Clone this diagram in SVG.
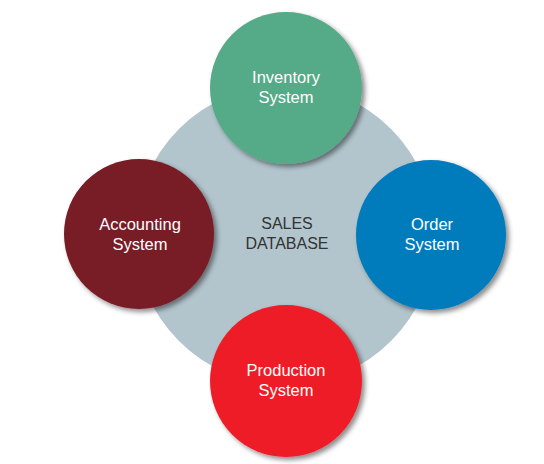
<svg xmlns="http://www.w3.org/2000/svg" width="544" height="464" viewBox="0 0 544 464">
<defs>
<filter id="sh" x="-20%" y="-20%" width="140%" height="140%">
<feDropShadow dx="3" dy="3" stdDeviation="2.5" flood-color="#000" flood-opacity="0.45"/>
</filter>
<style>
.lbl{font-family:"Liberation Sans",Arial,sans-serif;font-size:16.5px;fill:#fff;text-anchor:middle}
.db{font-family:"Liberation Sans",Arial,sans-serif;font-size:16px;fill:#333;text-anchor:middle}
</style>
</defs>
<rect width="544" height="464" fill="#fff"/>
<g id="sales-database">
<circle cx="285" cy="235" r="150" fill="#b2c5cc"/>
<text class="db" x="287" y="229">SALES</text>
<text class="db" x="287" y="249">DATABASE</text>
</g>
<g id="inventory-system">
<circle cx="286" cy="88" r="76" fill="#55aa88" filter="url(#sh)"/>
<text class="lbl" x="286" y="83">Inventory</text>
<text class="lbl" x="286" y="103">System</text>
</g>
<g id="accounting-system">
<circle cx="139" cy="234" r="75" fill="#781c25" filter="url(#sh)"/>
<text class="lbl" x="140" y="230">Accounting</text>
<text class="lbl" x="140" y="250">System</text>
</g>
<g id="order-system">
<circle cx="431" cy="235" r="75" fill="#007bbd" filter="url(#sh)"/>
<text class="lbl" x="432" y="230">Order</text>
<text class="lbl" x="432" y="250">System</text>
</g>
<g id="production-system">
<circle cx="286" cy="381" r="76" fill="#ed1c27" filter="url(#sh)"/>
<text class="lbl" x="286" y="376">Production</text>
<text class="lbl" x="286" y="396">System</text>
</g>
<g id="connectors"/>
</svg>
